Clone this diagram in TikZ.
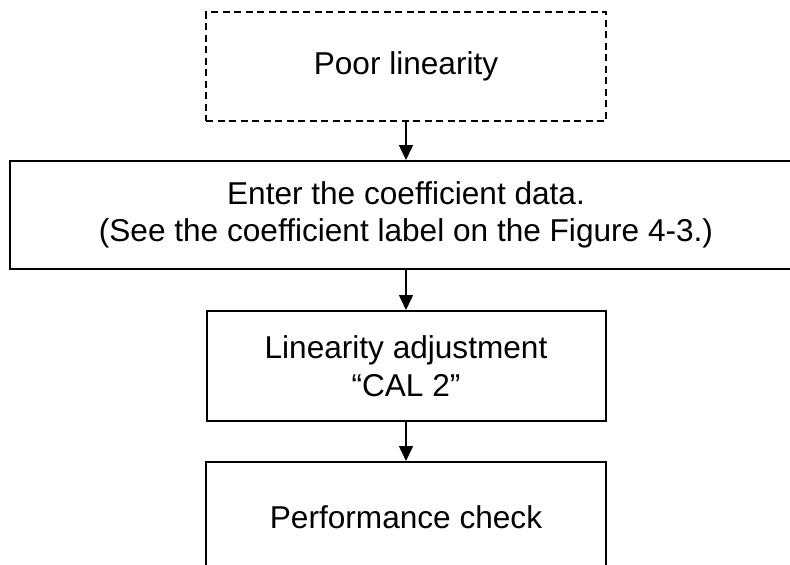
\documentclass[tikz,border=0pt]{standalone}
\usepackage{fontspec}
\setmainfont{Liberation Sans}
\usetikzlibrary{arrows.meta}
\begin{document}
\begin{tikzpicture}[x=1pt,y=-1pt,
  box/.style={draw=black,line width=2pt,fill=white,inner sep=0pt,align=center,
    font=\fontsize{31.6}{37.5}\selectfont},
  dbox/.style={box,dash pattern=on 7pt off 4.5pt},
  arr/.style={line width=1.6pt,-{Triangle[length=15pt,width=14pt]}}]
\useasboundingbox (0,0) rectangle (790,565);
\clip (0,0) rectangle (790,565);
\fill[white] (0,0) rectangle (790,565);
\node[dbox,minimum width=400pt,minimum height=109pt] (b1) at (406,66.5) {Poor linearity};
\node[box,minimum width=792pt,minimum height=108pt] (b2) at (406,215) {Enter the coefficient data.\\(See the coefficient label on the Figure 4-3.)};
\node[box,minimum width=399pt,minimum height=110pt] (b3) at (406,366) {Linearity adjustment\\“CAL 2”};
\node[box,minimum width=400pt,minimum height=110pt] (b4) at (406,517) {Performance check};
\draw[arr] (b1.south) -- (b2.north);
\draw[arr] (b2.south) -- (b3.north);
\draw[arr] (b3.south) -- (b4.north);
\end{tikzpicture}
\end{document}
